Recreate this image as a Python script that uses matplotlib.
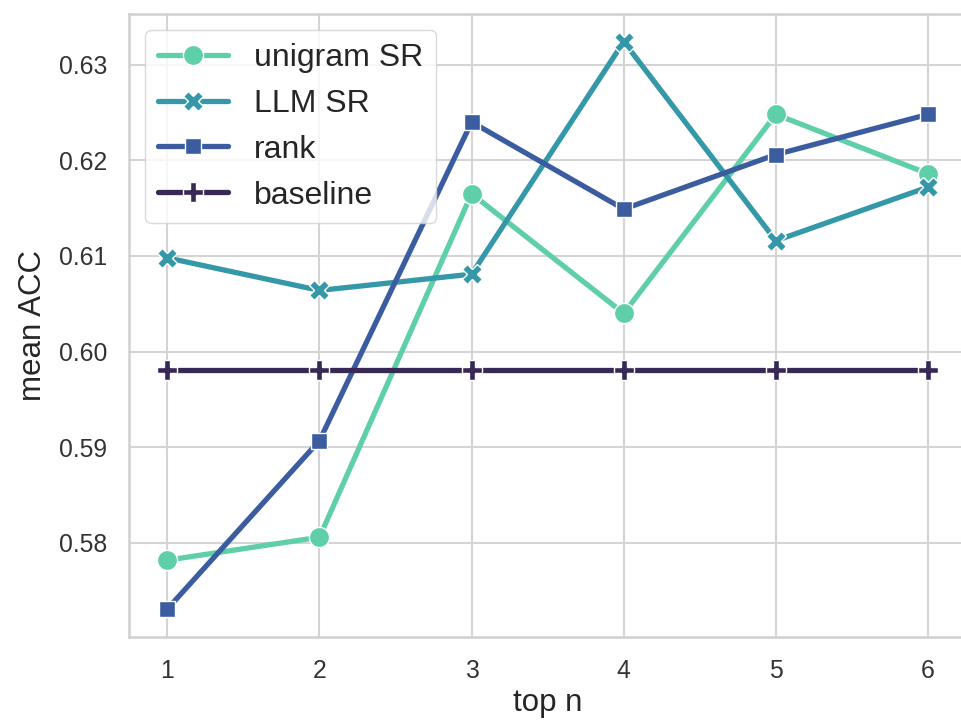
import numpy as np
import matplotlib
matplotlib.use("Agg")
import matplotlib.pyplot as plt
import seaborn as sns

# mean ACC for each selection strategy vs. top n
top_n = [1, 2, 3, 4, 5, 6]
unigram_sr = [0.5782, 0.5806, 0.6165, 0.6040, 0.6248, 0.6186]
llm_sr     = [0.6098, 0.6064, 0.6081, 0.6324, 0.6116, 0.6172]
rank       = [0.5731, 0.5907, 0.6240, 0.6149, 0.6206, 0.6248]
baseline   = [0.5981, 0.5981, 0.5981, 0.5981, 0.5981, 0.5981]

sns.set_style("whitegrid")
plt.rcParams["font.family"] = ["Liberation Sans", "DejaVu Sans"]

fig = plt.figure(figsize=(9.61, 7.24), dpi=100)
ax = fig.add_axes([0.1346, 0.1206, 0.8706, 0.8601])

series = [
    ("unigram SR", unigram_sr, "#5fcfa9", "o", 14.5),
    ("LLM SR",     llm_sr,     "#3598a9", "X", 15),
    ("rank",       rank,       "#3b5da0", "s", 11),
    ("baseline",   baseline,   "#372855", "P", 15),
]
for name, vals, col, mk, ms in series:
    ax.plot(top_n, vals, color=col, lw=3.8, marker=mk, ms=ms,
            mec="white", mew=1.0, label=name)

ax.set_xlim(0.75, 6.25)
ax.set_ylim(0.5702, 0.6353)
ax.set_xticks(top_n)
ax.set_yticks([0.58, 0.59, 0.60, 0.61, 0.62, 0.63])
ax.set_yticklabels(["0.58", "0.59", "0.60", "0.61", "0.62", "0.63"])

ax.grid(True, color="#d4d4d4", lw=1.5)
for sp in ax.spines.values():
    sp.set_color("#d0d0d0")
    sp.set_linewidth(1.8)

ax.tick_params(axis="both", length=0, labelsize=17.8, colors="#333333")
ax.tick_params(axis="x", pad=16)
ax.tick_params(axis="y", pad=16)
ax.set_xlabel("top n", fontsize=22.5, color="#262626", labelpad=4)
ax.set_ylabel("mean ACC", fontsize=22.5, color="#262626", labelpad=8)

ax.legend(loc="upper left", fontsize=23, handlelength=2.2,
          frameon=True, framealpha=0.8, edgecolor="#d0d0d0")

fig.savefig("out.png", dpi=100)
